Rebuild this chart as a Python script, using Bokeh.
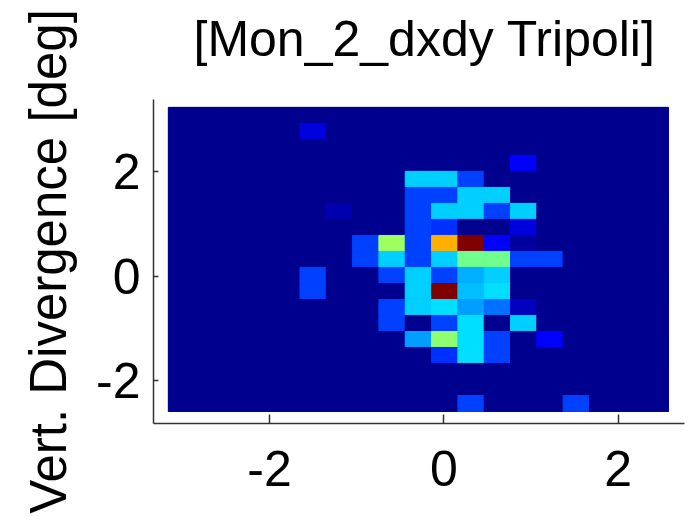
import numpy as np
from bokeh.plotting import figure
from bokeh.models import ColumnDataSource, LinearColorMapper, FixedTicker, Title
from bokeh.embed import file_html
from bokeh.resources import INLINE

# ---------------- data ----------------
title_text = "[Mon_2_dxdy Tripoli]"
y_label_text = "Vert. Divergence [deg]"
tick_values = [-2, 0, 2]
tick_labels = ["-2", "0", "2"]

# bin centres (horizontal and vertical divergence, deg)
x_centers = [-3.009, -2.707, -2.405, -2.103, -1.801, -1.499, -1.198, -0.896, -0.594,
             -0.292, 0.010, 0.312, 0.614, 0.916, 1.217, 1.519, 1.821, 2.123, 2.425]
y_centers = [-2.437, -2.131, -1.824, -1.518, -1.212, -0.905, -0.599, -0.293, 0.014,
             0.320, 0.626, 0.933, 1.239, 1.545, 1.852, 2.158, 2.464, 2.771, 3.077]

# intensity (relative, % of max); rows listed from the top row down, columns left to right
z_rows = [
    [0, 0, 0, 0, 0, 0, 0, 0, 0, 0, 0, 0, 0, 0, 0, 0, 0, 0, 0],
    [0, 0, 0, 0, 0, 9, 0, 0, 0, 0, 0, 0, 0, 0, 0, 0, 0, 0, 0],
    [0, 0, 0, 0, 0, 0, 0, 0, 0, 0, 0, 0, 0, 0, 0, 0, 0, 0, 0],
    [0, 0, 0, 0, 0, 0, 0, 0, 0, 0, 0, 0, 0, 12, 0, 0, 0, 0, 0],
    [0, 0, 0, 0, 0, 0, 0, 0, 0, 32, 32, 18, 0, 0, 0, 0, 0, 0, 0],
    [0, 0, 0, 0, 0, 0, 0, 0, 0, 18, 18, 32, 32, 0, 0, 0, 0, 0, 0],
    [0, 0, 0, 0, 0, 0, 4, 0, 0, 18, 32, 32, 18, 32, 0, 0, 0, 0, 0],
    [0, 0, 0, 0, 0, 0, 0, 0, 0, 18, 16, 0, 0, 8, 0, 0, 0, 0, 0],
    [0, 0, 0, 0, 0, 0, 0, 18, 52, 18, 70, 100, 12, 3, 0, 0, 0, 0, 0],
    [0, 0, 0, 0, 0, 0, 0, 18, 32, 18, 32, 48, 48, 18, 18, 0, 0, 0, 0],
    [0, 0, 0, 0, 0, 18, 0, 0, 18, 32, 18, 29, 32, 0, 0, 0, 0, 0, 0],
    [0, 0, 0, 0, 0, 18, 0, 0, 0, 32, 100, 30, 34, 0, 0, 0, 0, 0, 0],
    [0, 0, 0, 0, 0, 0, 0, 0, 18, 32, 34, 28, 22, 6, 0, 0, 0, 0, 0],
    [0, 0, 0, 0, 0, 0, 0, 0, 18, 0, 18, 33, 0, 32, 0, 0, 0, 0, 0],
    [0, 0, 0, 0, 0, 0, 0, 0, 0, 27, 50, 34, 18, 0, 11, 0, 0, 0, 0],
    [0, 0, 0, 0, 0, 0, 0, 0, 0, 0, 17, 34, 18, 0, 0, 0, 0, 0, 0],
    [0, 0, 0, 0, 0, 0, 0, 0, 0, 0, 0, 0, 0, 0, 0, 0, 0, 0, 0],
    [0, 0, 0, 0, 0, 0, 0, 0, 0, 0, 0, 0, 0, 0, 0, 0, 0, 0, 0],
    [0, 0, 0, 0, 0, 0, 0, 0, 0, 0, 0, 18, 0, 0, 0, 18, 0, 0, 0],
]

# ---------------- MATLAB-style jet(64) palette ----------------
def jet64():
    cols = []
    for i in range(1, 65):
        if i <= 8:
            b = 0.5625 + (i - 1) * 0.0625
        elif i <= 24:
            b = 1.0
        elif i <= 40:
            b = 1.0 - (i - 24) / 16
        else:
            b = 0.0
        if i <= 8:
            g = 0.0
        elif i <= 24:
            g = (i - 8) / 16
        elif i <= 40:
            g = 1.0
        elif i <= 56:
            g = 1.0 - (i - 40) / 16
        else:
            g = 0.0
        if i <= 24:
            r = 0.0
        elif i <= 40:
            r = (i - 24) / 16
        elif i <= 56:
            r = 1.0
        else:
            r = 1.0 - (i - 56) / 16
        cols.append("#%02x%02x%02x" % (round(r * 255), round(g * 255), round(b * 255)))
    return cols

palette = jet64()

xs, ys, zs = [], [], []
n_rows = len(z_rows)
for i, row in enumerate(z_rows):
    yc = y_centers[n_rows - 1 - i]
    for j, v in enumerate(row):
        xs.append(x_centers[j])
        ys.append(yc)
        zs.append(v)
source = ColumnDataSource(dict(x=xs, y=ys, z=zs))

dx = x_centers[1] - x_centers[0]
dy = y_centers[1] - y_centers[0]

mapper = LinearColorMapper(palette=palette, low=0, high=100)

FONT = "Liberation Sans"

p = figure(width=689, height=517, x_range=(-3.33, 2.76), y_range=(-2.82, 3.38),
           output_backend="svg", toolbar_location=None, title=None,
           min_border_left=153, min_border_right=5, min_border_top=99, min_border_bottom=94)

# image background (lowest colour of the map) spanning the bins
p.quad(left=x_centers[0] - dx / 2, right=x_centers[-1] + dx / 2,
       bottom=y_centers[0] - dy / 2, top=y_centers[-1] + dy / 2,
       fill_color=palette[0], line_color=None)

p.rect(x="x", y="y", width=dx, height=dy, source=source,
       fill_color={"field": "z", "transform": mapper},
       line_color={"field": "z", "transform": mapper}, line_width=1)

# spacer panel (closest to the frame) then the real title above it
spacer = Title(text=" ", text_font_size="1px", standoff=30)
p.add_layout(spacer, "above")
main_title = Title(text=title_text, text_font=FONT, text_font_size="50px",
                   text_font_style="normal", text_color="black",
                   align="left", offset=40, standoff=0)
p.add_layout(main_title, "above")

p.grid.visible = False
p.outline_line_color = None
p.background_fill_color = "white"
p.border_fill_color = "white"

overrides = {v: t for v, t in zip(tick_values, tick_labels)}
for ax in (p.xaxis[0], p.yaxis[0]):
    ax.ticker = FixedTicker(ticks=tick_values)
    ax.major_label_overrides = overrides
    ax.major_label_text_font = FONT
    ax.major_label_text_font_size = "50px"
    ax.major_label_text_color = "black"
    ax.minor_tick_line_color = None
    ax.major_tick_out = 0
    ax.axis_line_color = "#333333"
    ax.axis_line_width = 1.5
    ax.major_tick_line_color = "#333333"
    ax.major_tick_line_width = 1.5

p.xaxis.major_tick_in = 9
p.yaxis.major_tick_in = 5
p.xaxis.major_label_standoff = 27
p.yaxis.major_label_standoff = 13

p.yaxis.axis_label = y_label_text
p.yaxis.axis_label_text_font = FONT
p.yaxis.axis_label_text_font_size = "51px"
p.yaxis.axis_label_text_font_style = "normal"
p.yaxis.axis_label_text_color = "black"
p.yaxis.axis_label_standoff = 16

open("out.html", "w").write(file_html(p, INLINE))
